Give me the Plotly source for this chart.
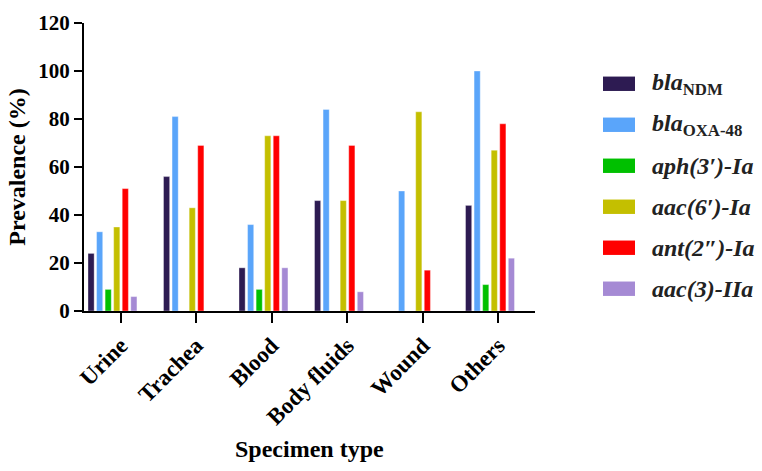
import plotly.graph_objects as go

categories = ["Urine", "Trachea", "Blood", "Body fluids", "Wound", "Others"]
series_names = ["<i>bla</i><sub>NDM</sub>", "<i>bla</i><sub>OXA-48</sub>", "<i>aph(3′)-Ia</i>",
                "<i>aac(6′)-Ia</i>", "<i>ant(2″)-Ia</i>", "<i>aac(3)-IIa</i>"]
bla_ndm = [24, 56, 18, 46, 0, 44]
bla_oxa48 = [33, 81, 36, 84, 50, 100]
aph3_ia = [9, 0, 9, 0, 0, 11]
aac6_ia = [35, 43, 73, 46, 83, 67]
ant2_ia = [51, 69, 73, 69, 17, 78]
aac3_iia = [6, 0, 18, 8, 0, 22]
y_ticks = [0, 20, 40, 60, 80, 100, 120]

series = [bla_ndm, bla_oxa48, aph3_ia, aac6_ia, ant2_ia, aac3_iia]
colors = ["#2D1B52", "#5AA5FA", "#00C000", "#C4BF00", "#FF0000", "#A58AD4"]

FONT = "Liberation Serif"
xs = list(range(len(categories)))

fig = go.Figure()
for name, vals, col in zip(series_names, series, colors):
    fig.add_trace(go.Bar(x=xs, y=vals, name=name, marker_color=col,
                         marker_line_width=0.6, marker_line_color="rgba(255,255,255,0.6)",
                         showlegend=False))

# custom legend (swatches + labels)
row0 = 74.3
step = 42.7
for i, (name, col) in enumerate(zip(series_names, colors)):
    yc = row0 + i * step
    fig.add_shape(type="rect", xref="paper", yref="paper",
                  x0=(603 - 84) / 451, x1=(635 - 84) / 451,
                  y0=(311 - (yc + 7.5)) / 300, y1=(311 - (yc - 7.5)) / 300,
                  fillcolor=col, line_width=0)
    fig.add_annotation(xref="paper", yref="paper", x=(650 - 84) / 451, y=(311 - yc) / 300,
                       text="<b>" + name + "</b>", showarrow=False, xanchor="left", yanchor="middle",
                       font=dict(family=FONT, size=24, color="#222222"))

fig.add_annotation(xref="paper", yref="paper", x=0.5, y=(311 - 455) / 300,
                   text="<b>Specimen type</b>", showarrow=False, xanchor="center", yanchor="middle",
                   font=dict(family=FONT, size=24, color="black"))

fig.update_layout(
    width=762, height=471,
    margin=dict(l=84, r=227, t=11, b=160),
    paper_bgcolor="white", plot_bgcolor="white",
    barmode="group", bargap=0.32, bargroupgap=0.28,
    font=dict(family=FONT, color="black"),
)
fig.update_xaxes(range=[-0.377, 5.596], tickmode="array",
                 tickvals=[x + 0.11 for x in xs],
                 ticktext=["<b>" + c + "</b>" for c in categories],
                 tickangle=-45, tickfont=dict(family=FONT, size=23, color="black"),
                 ticks="outside", ticklen=10, tickwidth=2, tickcolor="black",
                 showline=True, linecolor="black", linewidth=2, showgrid=False, zeroline=False)
fig.update_yaxes(range=[0, 120], tickmode="array", tickvals=y_ticks,
                 ticktext=["<b>%d</b>" % v for v in y_ticks],
                 tickfont=dict(family=FONT, size=21, color="black"),
                 ticklabeloverflow="allow",
                 ticks="outside", ticklen=8, tickwidth=2, tickcolor="black",
                 showline=True, linecolor="black", linewidth=2, showgrid=False, zeroline=False,
                 title=dict(text="<b>Prevalence (%)</b>", font=dict(family=FONT, size=24, color="black"),
                            standoff=6))

fig.write_html("out.html")
